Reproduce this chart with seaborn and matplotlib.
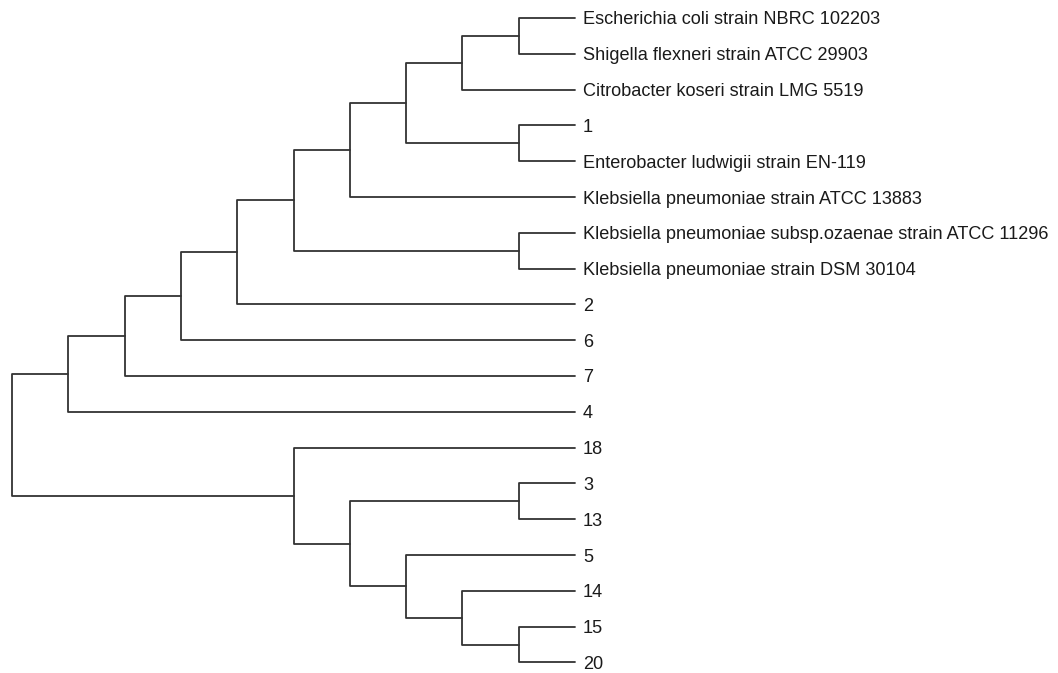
import numpy as np
import pandas as pd
import matplotlib
matplotlib.use("Agg")
import matplotlib.pyplot as plt
import seaborn as sns

# ── Tree data ────────────────────────────────────────────────────────────────
leaf_labels = [
    "Escherichia coli strain NBRC 102203",
    "Shigella flexneri strain ATCC 29903",
    "Citrobacter koseri strain LMG 5519",
    "1",
    "Enterobacter ludwigii strain EN-119",
    "Klebsiella pneumoniae strain ATCC 13883",
    "Klebsiella pneumoniae subsp.ozaenae strain ATCC 11296",
    "Klebsiella pneumoniae strain DSM 30104",
    "2",
    "6",
    "7",
    "4",
    "18",
    "3",
    "13",
    "5",
    "14",
    "15",
    "20",
]

# merges: (left child, right child) -> new node id = n_leaves + row
merge_left = [0, 19, 3, 20, 22, 6, 23, 25, 26, 27, 28, 13, 17, 16, 15, 30, 12, 29]
merge_right = [1, 2, 4, 21, 5, 7, 24, 8, 9, 10, 11, 14, 18, 31, 32, 33, 34, 35]
merge_height = [1, 2, 1, 3, 4, 1, 5, 6, 7, 8, 9, 1, 1, 2, 3, 4, 5, 10]

# ── Layout ───────────────────────────────────────────────────────────────────
n = len(leaf_labels)
node_y = {i: float(i) for i in range(n)}
node_h = {i: 0.0 for i in range(n)}
rows = []
for k, (a, b, h) in enumerate(zip(merge_left, merge_right, merge_height)):
    nid = n + k
    node_y[nid] = (node_y[a] + node_y[b]) / 2
    node_h[nid] = h
    xs = [node_h[a], h, h, node_h[b]]
    ys = [node_y[a], node_y[a], node_y[b], node_y[b]]
    for order, (x, y) in enumerate(zip(xs, ys)):
        rows.append({"seg": nid, "order": order, "x": x, "y": y})
seg_df = pd.DataFrame(rows)

# ── Plot ─────────────────────────────────────────────────────────────────────
sns.set_style("white")
plt.rcParams["font.family"] = ["Liberation Sans", "DejaVu Sans"]

fig = plt.figure(figsize=(10.58, 6.73), dpi=100)
ax = fig.add_axes([0, 0, 1, 1])

sns.lineplot(data=seg_df, x="x", y="y", units="seg", estimator=None,
             sort=False, color="#333333", linewidth=1.3, ax=ax)

for i, lab in enumerate(leaf_labels):
    ax.text(-0.14, i, lab, ha="left", va="center_baseline",
            fontsize=13.1, color="#1a1a1a")

# map: x px = 575 - 56.3*h ; y px = 18 + 35.8*i
ax.set_xlim(575 / 56.3, (575 - 1058) / 56.3)
ax.set_ylim((673 - 18) / 35.8, -18 / 35.8)
ax.axis("off")

fig.savefig("out.png", dpi=100)
plt.close(fig)
